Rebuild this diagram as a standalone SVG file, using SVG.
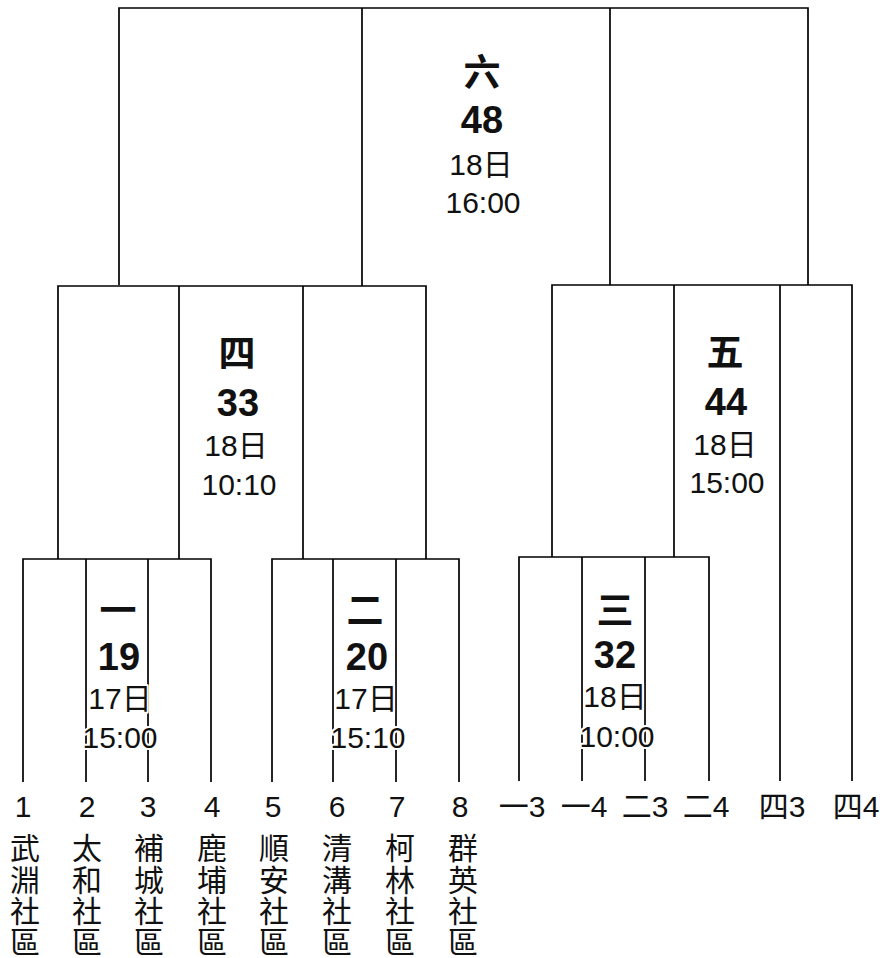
<svg xmlns="http://www.w3.org/2000/svg" width="880" height="958" viewBox="0 0 880 958">
<style>
  .ln { stroke: #000; stroke-width: 1.7; fill: none; }
  text { font-family: "Liberation Sans", "Noto Sans CJK TC", sans-serif; fill: #111; text-anchor: middle; }
  .k { font-family: "Noto Sans CJK TC", sans-serif; font-weight: bold; font-size: 37px; }
  .n { font-weight: bold; font-size: 38px; }
  .d { font-size: 30px; }
  .h { paint-order: stroke; stroke: #fff; stroke-width: 4px; stroke-linejoin: round; }
  .lab { font-size: 30px; }
  .nm { font-family: "Noto Sans CJK TC", sans-serif; font-size: 30px; writing-mode: vertical-rl; text-orientation: upright; text-anchor: start; letter-spacing: 1.3px; }
</style>
<rect width="880" height="958" fill="#fff"/>
<g id="connectors">
  <path class="ln" d="M119,285 V8 H808 V285 M362,8 V286 M610,8 V285"/>
  <path class="ln" d="M58,559 V286 H426 V559 M179,286 V559 M303,286 V559"/>
  <path class="ln" d="M552,557 V285 H852 V781 M674,285 V557 M780,285 V781"/>
  <path class="ln" d="M23,782 V559 H211 V782 M86,559 V782 M148,559 V782"/>
  <path class="ln" d="M272,782 V559 H459 V782 M333,559 V782 M396,559 V782"/>
  <path class="ln" d="M519,781 V557 H709 V781 M582,557 V781 M645,557 V781"/>
</g>
<g id="match6">
  <text class="k" x="482" y="86">六</text>
  <text class="n" x="482" y="133">48</text>
  <text class="d" x="481" y="175">18日</text>
  <text class="d" x="483" y="213">16:00</text>
</g>
<g id="match4">
  <text class="k" x="237" y="367">四</text>
  <text class="n" x="238" y="416">33</text>
  <text class="d" x="236" y="456">18日</text>
  <text class="d" x="239" y="495">10:10</text>
</g>
<g id="match5">
  <text class="k" x="725" y="366">五</text>
  <text class="n" x="726" y="415">44</text>
  <text class="d" x="725" y="455">18日</text>
  <text class="d" x="727" y="493">15:00</text>
</g>
<g id="match1">
  <text class="k" x="118" y="624">一</text>
  <text class="n" x="119" y="670">19</text>
  <text class="d h" x="120" y="709">17日</text>
  <text class="d h" x="120" y="748">15:00</text>
</g>
<g id="match2">
  <text class="k" x="365" y="624">二</text>
  <text class="n" x="367" y="670">20</text>
  <text class="d h" x="366" y="709">17日</text>
  <text class="d h" x="368" y="748">15:10</text>
</g>
<g id="match3">
  <text class="k" x="615" y="624">三</text>
  <text class="n" x="615" y="668">32</text>
  <text class="d h" x="615" y="707">18日</text>
  <text class="d h" x="617" y="747">10:00</text>
</g>
<g id="slots">
  <text class="lab" x="23" y="817">1</text>
  <text class="lab" x="87" y="817">2</text>
  <text class="lab" x="148" y="817">3</text>
  <text class="lab" x="212" y="817">4</text>
  <text class="lab" x="273" y="817">5</text>
  <text class="lab" x="337" y="817">6</text>
  <text class="lab" x="397" y="817">7</text>
  <text class="lab" x="460" y="817">8</text>
  <text class="lab" x="522" y="817">一3</text>
  <text class="lab" x="584" y="817">一4</text>
  <text class="lab" x="645" y="817">二3</text>
  <text class="lab" x="706" y="817">二4</text>
  <text class="lab" x="782" y="817">四3</text>
  <text class="lab" x="856" y="817">四4</text>
</g>
<g id="teams">
  <text class="nm" x="25" y="833">武淵社區</text>
  <text class="nm" x="87" y="833">太和社區</text>
  <text class="nm" x="149" y="833">補城社區</text>
  <text class="nm" x="212" y="833">鹿埔社區</text>
  <text class="nm" x="274" y="833">順安社區</text>
  <text class="nm" x="337" y="833">清溝社區</text>
  <text class="nm" x="400" y="833">柯林社區</text>
  <text class="nm" x="463" y="833">群英社區</text>
</g>
</svg>
